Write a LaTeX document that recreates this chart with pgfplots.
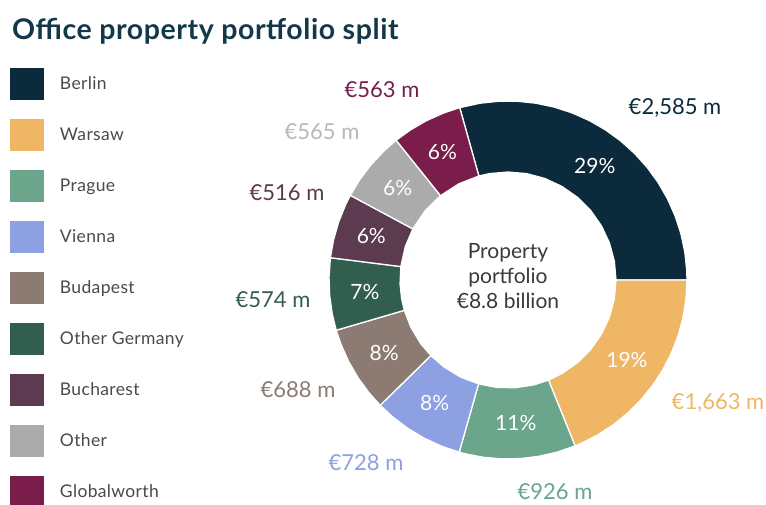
\documentclass[border=0pt]{standalone}
\usepackage{fontspec}
\setmainfont{Lato}
\usepackage{pgfplots}
\pgfplotsset{compat=1.18}
\usepgfplotslibrary{polar}

\definecolor{cBerlin}{HTML}{0B2B3C}
\definecolor{cWarsaw}{HTML}{EEB665}
\definecolor{cPrague}{HTML}{6BA58B}
\definecolor{cVienna}{HTML}{8CA0E2}
\definecolor{cBudapest}{HTML}{8C7B73}
\definecolor{cOtherGer}{HTML}{325E50}
\definecolor{cBucharest}{HTML}{5C3B50}
\definecolor{cOther}{HTML}{ABABAB}
\definecolor{cGlobal}{HTML}{7B1D4A}
\definecolor{titlecol}{HTML}{12384A}
\definecolor{legtext}{HTML}{4A4A4A}
\definecolor{centertext}{HTML}{3A3A3A}

\begin{document}
\begin{tikzpicture}[x=1pt,y=1pt]
\path[use as bounding box] (0,0) rectangle (766,504);
\node[anchor=base west, inner sep=0pt, text=titlecol,
  font=\fontsize{28.5}{32}\selectfont\bfseries\addfontfeatures{LetterSpace=2}] at (12,464) {Office property portfolio split};

% axis box spans (329,45)--(687,403); legend top-left at (10,436)
\begin{polaraxis}[
    at={(508pt,224pt)}, anchor=center,
    scale only axis, width=358pt, height=358pt,
    xmin=0, xmax=360, ymin=0, ymax=179,
    hide axis, clip=false,
    every axis plot/.append style={draw=white, line width=1.3pt, line join=round},
    legend image code/.code={\fill[#1,draw=none] (0pt,-16pt) rectangle (34pt,16pt);},
    legend style={at={(axis description cs:-0.8911,1.0922)}, anchor=north west, draw=none, fill=none,
      inner sep=0pt, outer sep=0pt, row sep=19pt, column sep=16pt,
      cells={anchor=west},
      nodes={inner sep=0pt, text=legtext, font=\fontsize{17.5}{20}\selectfont\addfontfeatures{LetterSpace=2}}},
]
% Berlin 2585
\addplot[fill=cBerlin] coordinates {(105.65,179) (99,179) (93,179) (87,179) (81,179) (75,179) (69,179) (63,179) (57,179) (51,179) (45,179) (39,179) (33,179) (27,179) (21,179) (15,179) (9,179) (3,179) (0,179)
 (0,108) (10,108) (20,108) (30,108) (40,108) (50,108) (60,108) (70,108) (80,108) (90,108) (100,108) (105.65,108)} -- cycle;
% Warsaw 1663
\addplot[fill=cWarsaw] coordinates {(0,179) (-6,179) (-12,179) (-18,179) (-24,179) (-30,179) (-36,179) (-42,179) (-48,179) (-54,179) (-60,179) (-66,179) (-67.97,179)
 (-67.97,108) (-60,108) (-50,108) (-40,108) (-30,108) (-20,108) (-10,108) (0,108)} -- cycle;
% Prague 926
\addplot[fill=cPrague] coordinates {(-67.97,179) (-74,179) (-80,179) (-86,179) (-92,179) (-98,179) (-104,179) (-105.82,179)
 (-105.82,108) (-96,108) (-86,108) (-76,108) (-67.97,108)} -- cycle;
% Vienna 728
\addplot[fill=cVienna] coordinates {(-105.82,179) (-112,179) (-118,179) (-124,179) (-130,179) (-135.57,179)
 (-135.57,108) (-126,108) (-116,108) (-105.82,108)} -- cycle;
% Budapest 688
\addplot[fill=cBudapest] coordinates {(-135.57,179) (-141,179) (-147,179) (-153,179) (-159,179) (-163.69,179)
 (-163.69,108) (-154,108) (-144,108) (-135.57,108)} -- cycle;
% Other Germany 574
\addplot[fill=cOtherGer] coordinates {(-163.69,179) (-169,179) (-175,179) (-181,179) (-187.15,179)
 (-187.15,108) (-178,108) (-170,108) (-163.69,108)} -- cycle;
% Bucharest 516
\addplot[fill=cBucharest] coordinates {(-187.15,179) (-193,179) (-199,179) (-205,179) (-208.24,179)
 (-208.24,108) (-198,108) (-187.15,108)} -- cycle;
% Other 565
\addplot[fill=cOther] coordinates {(-208.24,179) (-214,179) (-220,179) (-226,179) (-231.33,179)
 (-231.33,108) (-220,108) (-208.24,108)} -- cycle;
% Globalworth 563
\addplot[fill=cGlobal] coordinates {(-231.33,179) (-237,179) (-243,179) (-249,179) (-254.35,179)
 (-254.35,108) (-243,108) (-231.33,108)} -- cycle;
\legend{Berlin, Warsaw, Prague, Vienna, Budapest, Other Germany, Bucharest, Other, Globalworth}

% percentages
\begin{scope}[every node/.style={text=white, font=\fontsize{21}{24}\selectfont}]
\node at (axis cs:52.8,143.5) {29\%};
\node at (axis cs:-34,143.5) {19\%};
\node at (axis cs:-86.9,143.5) {11\%};
\node at (axis cs:-120.7,143.5) {8\%};
\node at (axis cs:-149.6,143.5) {8\%};
\node at (axis cs:-175.4,143.5) {7\%};
\node at (axis cs:-197.7,143.5) {6\%};
\node at (axis cs:-219.8,143.5) {6\%};
\node at (axis cs:-242.8,143.5) {6\%};
\end{scope}
\end{polaraxis}

\node[align=center, text=centertext, font=\fontsize{21}{25}\selectfont] at (508,228) {Property\\portfolio\\€8.8 billion};

\begin{scope}[every node/.style={font=\fontsize{22}{26}\selectfont}]
\node[text=cGlobal] at (382,414) {€563 m};
\node[text=cBerlin] at (675,396) {€2,585 m};
\node[text=cOther!85] at (322,372) {€565 m};
\node[text=cBucharest] at (287,311) {€516 m};
\node[text=cOtherGer] at (273,204) {€574 m};
\node[text=cBudapest] at (298,114) {€688 m};
\node[text=cVienna] at (366,41) {€728 m};
\node[text=cPrague] at (555,12) {€926 m};
\node[text=cWarsaw] at (718,101) {€1,663 m};
\end{scope}
\end{tikzpicture}
\end{document}
